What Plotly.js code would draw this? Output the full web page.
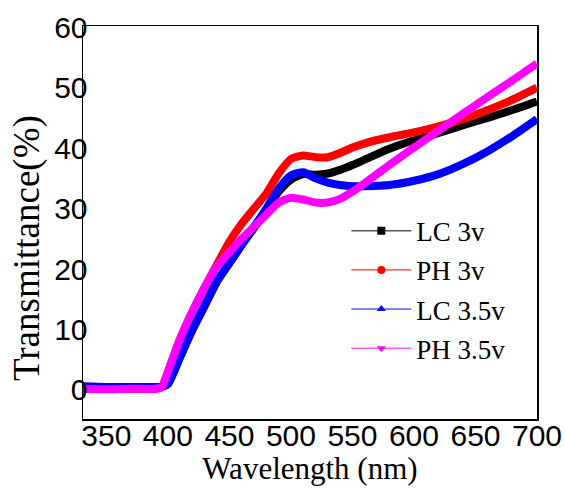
<!DOCTYPE html>
<html>
<head>
<meta charset="utf-8">
<script src="https://cdn.plot.ly/plotly-3.0.1.min.js"></script>
<style>html,body{margin:0;padding:0;background:#fff;}#chart{width:565px;height:501px;}</style>
</head>
<body>
<div id="chart"></div>
<script>
var wavelength = [331, 350, 370, 390, 395, 400, 410, 420, 430, 440, 450, 460, 470, 480, 490, 500, 510, 520, 530, 540, 550, 560, 580, 600, 620, 640, 660, 680, 700];
var lc3 = [0.5, 0.5, 0.5, 0.5, 0.5, 1, 5.5, 10, 14, 18, 21, 24, 26.8, 29.8, 32.8, 34.8, 35.7, 35.6, 35.8, 36.4, 37.2, 38.1, 39.9, 41.3, 42.5, 43.8, 45, 46.3, 47.7];
var ph3 = [0.2, 0.2, 0.2, 0.2, 0.5, 3, 8.5, 13, 17, 20.8, 24.5, 27.5, 30, 32.5, 35.8, 38.2, 38.8, 38.5, 38.5, 39.2, 40.1, 40.8, 41.8, 42.6, 43.6, 44.8, 46.3, 48, 50];
var lc35 = [0.6, 0.5, 0.5, 0.5, 0.5, 1, 5.5, 10, 14, 18, 21, 24, 27, 30, 33.3, 35.5, 36, 35, 34.3, 33.9, 33.7, 33.7, 33.9, 34.6, 35.7, 37.4, 39.5, 42, 44.8];
var ph35 = [0.2, 0.1, 0.2, 0.2, 0.5, 3, 8.5, 13, 17, 20.5, 22.8, 25, 27, 29, 31, 31.8, 31.5, 31, 31, 31.6, 32.8, 34.2, 37.2, 40.1, 42.9, 45.7, 48.5, 51.2, 54];
var names = ['LC 3v', 'PH 3v', 'LC 3.5v', 'PH 3.5v'];
var colors = ['#000000', '#ff0000', '#0000ff', '#ff00ff'];
var symbols = ['square', 'circle', 'triangle-up', 'triangle-down'];
var xTicks = [350, 400, 450, 500, 550, 600, 650, 700];
var yTicks = [0, 10, 20, 30, 40, 50, 60];
var series = [lc3, ph3, lc35, ph35];

var SERIF = '"Liberation Serif", "Times New Roman", Times, serif';
var SANS = '"Liberation Sans", Arial, Helvetica, sans-serif';

var traces = [];
series.forEach(function (s, i) {
  traces.push({
    x: wavelength, y: s, type: 'scatter', mode: 'lines',
    line: {color: colors[i], width: 8, shape: 'spline', smoothing: 0.6},
    showlegend: false, hoverinfo: 'skip'
  });
});
series.forEach(function (s, i) {
  traces.push({
    x: [null], y: [null], type: 'scatter', mode: 'lines+markers', name: names[i],
    legendgroup: 'g' + i,
    line: {color: colors[i], width: 1},
    marker: {symbol: symbols[i], size: 8, color: colors[i]}
  });
});

var layout = {
  width: 565, height: 501,
  margin: {l: 83, r: 28, t: 26, b: 82},
  paper_bgcolor: '#fff', plot_bgcolor: '#fff',
  font: {family: SERIF, color: '#000'},
  showlegend: true,
  legend: {
    x: 0.58, y: 0.54, xanchor: 'left', yanchor: 'top',
    traceorder: 'grouped', tracegroupgap: 1,
    font: {family: SERIF, size: 27, color: '#000'},
    bgcolor: 'rgba(0,0,0,0)', itemwidth: 60
  },
  xaxis: {
    range: [331, 700], tickvals: xTicks, ticktext: xTicks.map(String),
    ticks: '', showgrid: false, zeroline: false,
    showline: true, linecolor: '#000', linewidth: 1.5, mirror: true,
    ticklabelstandoff: -11,
    tickfont: {family: SANS, size: 30, color: '#000'},
    title: {text: 'Wavelength (nm)', font: {family: SERIF, size: 31, color: '#000', weight: 'normal'}, standoff: 2}
  },
  yaxis: {
    range: [-4.8, 60.2], tickvals: yTicks, ticktext: yTicks.map(String),
    ticks: '', showgrid: false, zeroline: false,
    showline: true, linecolor: '#000', linewidth: 1.5, mirror: true,
    ticklabelstandoff: -12,
    tickfont: {family: SANS, size: 30, color: '#000'}
  },
  annotations: [{
    text: 'Transmittance(%)', textangle: -90, showarrow: false,
    xref: 'paper', yref: 'paper', x: (27 - 83) / 454, y: (419 - 248) / 393,
    xanchor: 'center', yanchor: 'middle',
    font: {family: SERIF, size: 37, color: '#000', weight: 'normal'}
  }]
};
Plotly.newPlot('chart', traces, layout, {displayModeBar: false, staticPlot: true});
</script>
</body>
</html>
